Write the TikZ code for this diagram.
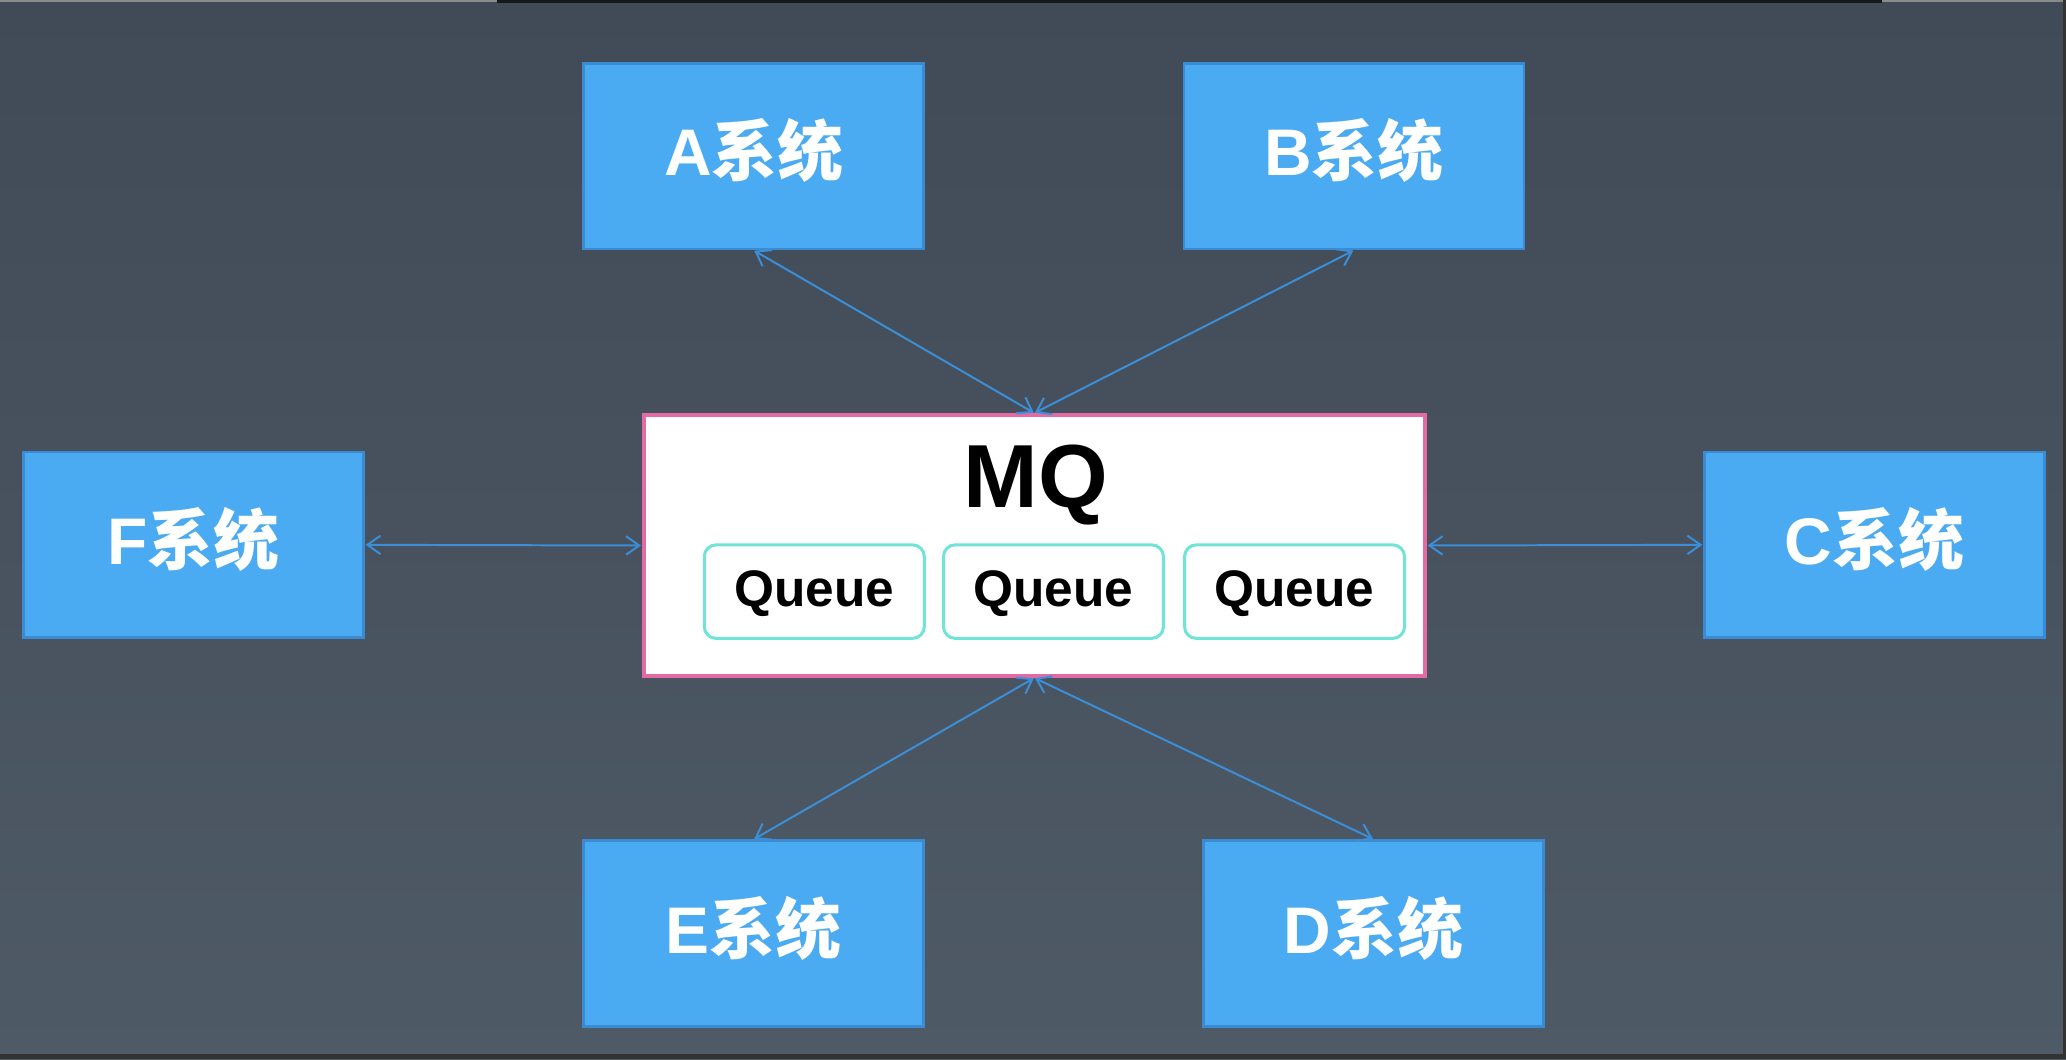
\documentclass[tikz,border=0pt]{standalone}
\usepackage{fontspec}
\setmainfont{Liberation Sans}
\newfontfamily\cjk{Noto Sans CJK SC}
\usetikzlibrary{arrows.meta}
\definecolor{bgtop}{HTML}{414A57}
\definecolor{bgbot}{HTML}{4F5A67}
\definecolor{sysfill}{HTML}{4BABF2}
\definecolor{sysdraw}{HTML}{3B8BD2}
\definecolor{mqdraw}{HTML}{E46AA6}
\definecolor{qdraw}{HTML}{70E4D6}
\definecolor{arrowc}{HTML}{3A8FD8}
\definecolor{topbar}{HTML}{15191E}
\definecolor{edgegrey}{HTML}{8A8A8A}
\definecolor{bottombar}{HTML}{333333}
\newcommand\syslabel[1]{{\bfseries #1}{\cjk\bfseries 系统}}
\tikzset{
  sysbox/.style={draw=sysdraw, line width=2pt, fill=sysfill, minimum width=258pt, minimum height=141pt,
    inner sep=0pt, text=white, font=\fontsize{50}{60}\selectfont, text height=38pt, text depth=8pt},
  mqbox/.style={draw=mqdraw, line width=3pt, fill=white, minimum width=593pt, minimum height=198pt, inner sep=0pt},
  qbox/.style={draw=qdraw, line width=2.3pt, fill=white, rounded corners=9pt, minimum width=167pt, minimum height=71pt,
    inner sep=0pt, font=\fontsize{39}{46}\selectfont\bfseries, text height=29pt, text depth=6pt},
  mqtitle/.style={inner sep=0pt, font=\fontsize{68}{80}\selectfont\bfseries, anchor=base},
  link/.style={draw=arrowc, line width=1.5pt, {Straight Barb[length=10pt,width=14pt]}-{Straight Barb[length=10pt,width=14pt]}, shorten <=0.5pt, shorten >=0.5pt}
}
\begin{document}
\begin{tikzpicture}[x=1pt,y=-1pt]
  \useasboundingbox (0,0) rectangle (1568,804);
  \shade[top color=bgtop, bottom color=bgbot] (0,0) rectangle (1568,804);
  % window edges
  \fill[edgegrey] (0,0) rectangle (1568,1.2);
  \fill[topbar] (377,0) rectangle (1428,2);
  \fill[bottombar] (0,800) rectangle (1568,804);
  \fill[bottombar] (1565.8,0) rectangle (1568,804);

  % nodes
  \node[sysbox] (A) at (572,118.5) {\syslabel{A}};
  \node[sysbox] (B) at (1027.5,118.5) {\syslabel{B}};
  \node[sysbox] (F) at (147,413.5) {\syslabel{F}};
  \node[sysbox] (C) at (1422.5,413.5) {\syslabel{C}};
  \node[sysbox] (E) at (572,708.5) {\syslabel{E}};
  \node[sysbox] (D) at (1042.5,708.5) {\syslabel{D}};

  \node[mqbox] (mq) at (785,414) {};
  \node[mqtitle] (mqt) at (786,385) {MQ};
  \node[qbox] (q1) at (618,449) {Queue};
  \node[qbox] (q2) at (799.5,449) {Queue};
  \node[qbox] (q3) at (982.5,449) {Queue};

  % connectors
  \draw[link] (A.south) -- (mq.north);
  \draw[link] (B.south) -- (mq.north);
  \draw[link] (F.east) -- (mq.west);
  \draw[link] (mq.east) -- (C.west);
  \draw[link] (E.north) -- (mq.south);
  \draw[link] (D.north) -- (mq.south);
\end{tikzpicture}
\end{document}
